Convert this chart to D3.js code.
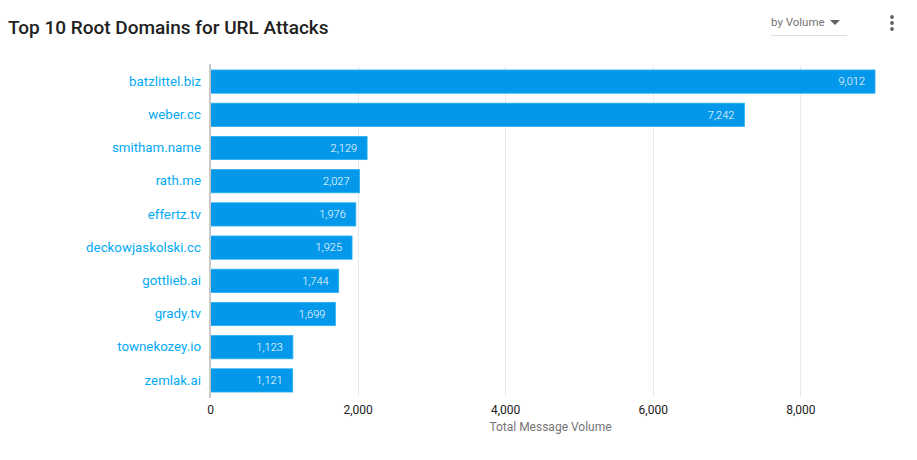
<!DOCTYPE html>
<html>
<head>
<meta charset="utf-8">
<script src="https://cdn.jsdelivr.net/npm/d3@7"></script>
<style>
  body { margin: 0; background: #fff; font-family: Roboto, "Noto Sans", sans-serif; }
  #chart { position: relative; width: 917px; height: 460px; }
</style>
</head>
<body>
<div id="chart"></div>
<script>
const domains = ['batzlittel.biz', 'weber.cc', 'smitham.name', 'rath.me', 'effertz.tv',
  'deckowjaskolski.cc', 'gottlieb.ai', 'grady.tv', 'townekozey.io', 'zemlak.ai'];
const volumes = [9012, 7242, 2129, 2027, 1976, 1925, 1744, 1699, 1123, 1121];
const xTicks = [0, 2000, 4000, 6000, 8000];

const w = 917;
const h = 460;
const plotLeft = 210;
const plotRight = 875;
const plotTop = 65;
const plotBottom = 397;

const dataset = domains.map((d, i) => ({ name: d, value: volumes[i] }));

const svg = d3.select('#chart')
    .append('svg')
    .attr('width', w)
    .attr('height', h);

// header
svg.append('text')
    .attr('x', 8)
    .attr('y', 34)
    .text('Top 10 Root Domains for URL Attacks')
    .style('font-size', '19px')
    .style('font-weight', 500)
    .style('fill', '#212121');

svg.append('text')
    .attr('x', 771)
    .attr('y', 26)
    .text('by Volume')
    .style('font-size', '11.5px')
    .style('fill', '#757575');

svg.append('path')
    .attr('d', 'M830,20 L840,20 L835,25 Z')
    .style('fill', '#616161');

svg.append('line')
    .attr('x1', 771).attr('x2', 847)
    .attr('y1', 35.5).attr('y2', 35.5)
    .style('stroke', '#e0e0e0');

[17, 23, 29].forEach(cy => {
    svg.append('circle')
        .attr('cx', 892).attr('cy', cy).attr('r', 1.9)
        .style('fill', '#616161');
});

const xScale = d3.scaleLinear()
    .domain([0, 9012])
    .range([plotLeft, plotRight]);

const yScale = d3.scaleBand()
    .domain(domains)
    .range([plotTop, plotBottom])
    .paddingInner(0.3)
    .paddingOuter(0.15);

// grid lines
svg.append('g')
    .selectAll('line')
    .data(xTicks.slice(1))
    .enter()
    .append('line')
    .attr('x1', d => Math.round(xScale(d)) + 0.5)
    .attr('x2', d => Math.round(xScale(d)) + 0.5)
    .attr('y1', plotTop)
    .attr('y2', plotBottom)
    .style('stroke', '#ebebeb');

// x axis
const xAxis = d3.axisBottom(xScale)
    .tickValues(xTicks)
    .tickSize(0)
    .tickPadding(8)
    .tickFormat(d3.format(','));

const gx = svg.append('g')
    .attr('transform', `translate(0, ${plotBottom})`)
    .call(xAxis);
gx.select('.domain').remove();
gx.selectAll('text')
    .style('font-family', 'Roboto, sans-serif')
    .style('font-size', '12px')
    .style('fill', '#212121');

svg.append('text')
    .attr('x', (plotLeft + plotRight) / 2 + 8)
    .attr('y', 431)
    .attr('text-anchor', 'middle')
    .text('Total Message Volume')
    .style('font-size', '12px')
    .style('fill', '#757575');

// bars
svg.selectAll('rect.bar')
    .data(dataset)
    .enter()
    .append('rect')
    .attr('class', 'bar')
    .attr('x', xScale(0))
    .attr('y', d => yScale(d.name))
    .attr('width', d => xScale(d.value) - xScale(0))
    .attr('height', yScale.bandwidth())
    .style('fill', '#0398ea')
    .style('stroke', '#29b0f5')
    .style('stroke-width', 0.8);

svg.selectAll('text.val')
    .data(dataset)
    .enter()
    .append('text')
    .attr('class', 'val')
    .attr('x', d => xScale(d.value) - 10)
    .attr('y', d => yScale(d.name) + yScale.bandwidth() / 2)
    .attr('dy', '0.35em')
    .attr('text-anchor', 'end')
    .text(d => d3.format(',')(d.value))
    .style('font-size', '11px')
    .style('font-weight', 300)
    .style('fill', '#fff');

// y axis labels
const yAxis = d3.axisLeft(yScale)
    .tickSize(0)
    .tickPadding(9);

const gy = svg.append('g')
    .attr('transform', `translate(${plotLeft}, 0)`)
    .call(yAxis);
gy.select('.domain').remove();
gy.selectAll('text')
    .style('font-family', 'Roboto, sans-serif')
    .style('font-size', '13.3px')
    .style('fill', '#03a9f4');

svg.append('line')
    .attr('x1', plotLeft).attr('x2', plotLeft)
    .attr('y1', plotTop - 1).attr('y2', plotBottom + 1)
    .style('stroke', '#c8c8c8')
    .style('stroke-width', 2);
</script>
</body>
</html>
